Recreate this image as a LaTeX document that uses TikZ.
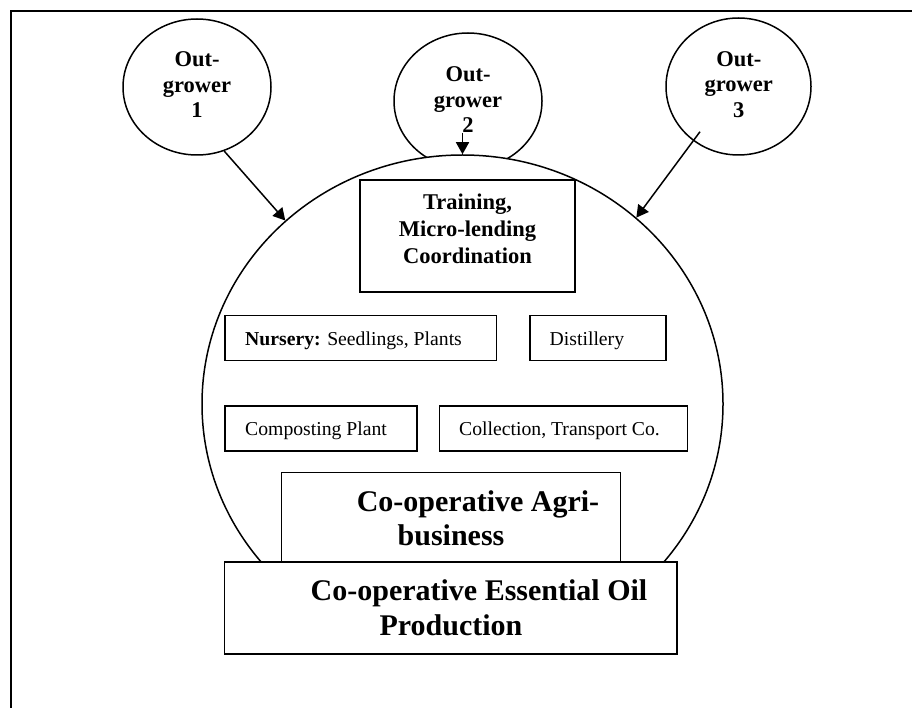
\documentclass[tikz,border=0pt]{standalone}
\usepackage{fontspec}
\setmainfont{Liberation Serif}
\usetikzlibrary{shapes.geometric,arrows.meta}
\begin{document}
\begin{tikzpicture}[x=1pt,y=-1pt,
  lw/.style={line width=1.5pt},
  og/.style={draw, ellipse, lw, inner sep=0pt, minimum width=148pt, minimum height=136pt},
  bigcircle/.style={draw, ellipse, lw, fill=white, inner sep=0pt, minimum width=521pt, minimum height=498pt},
  box/.style={draw, rectangle, lw, fill=white, inner sep=0pt},
  ogtext/.style={font=\fontsize{22.5}{25.7}\selectfont\bfseries, align=center, inner sep=0pt},
  trtext/.style={font=\fontsize{22.5}{27}\selectfont\bfseries, align=center, inner sep=0pt},
  reg/.style={font=\fontsize{19.7}{23}\selectfont, inner sep=0pt, anchor=base west},
  big/.style={font=\fontsize{30}{34.5}\selectfont\bfseries, align=center, inner sep=0pt},
  arr/.style={lw, -{Triangle[length=12pt,width=13pt]}}
]
\fill[white] (0,0) rectangle (912,708);
\useasboundingbox (0,0) rectangle (912,708);
% frame (top and left edges visible)
\draw[line width=2.2pt] (11,708) -- (11,11) -- (912,11);

% out-growers
\node[og] (og1) at (197,87) {};
\node[og] (og2) at (468,101) {};
\node[og, minimum width=145pt, minimum height=137pt] (og3) at (738.5,86.5) {};
\node[ogtext] (og1t) at (197,84.6) {Out-\\grower\\1};
\node[ogtext] (og2t) at (468,99.6) {Out-\\grower\\2};
\node[ogtext] (og3t) at (738.8,84.6) {Out-\\grower\\3};

% main circle
\node[bigcircle] (main) at (462.5,404) {};

% boxes
\node[box, minimum width=215pt, minimum height=112pt] (train) at (467.5,236) {};
\node[box, minimum width=271.7pt, minimum height=45pt] (nursery) at (360.85,338.2) {};
\node[box, minimum width=136pt, minimum height=45pt] (distil) at (598,338.2) {};
\node[box, minimum width=192pt, minimum height=45pt] (compost) at (321,428.5) {};
\node[box, minimum width=248.4pt, minimum height=45pt] (collect) at (563.5,428.5) {};
\node[box, minimum width=338.6pt, minimum height=89.7pt] (agri) at (451,517.15) {};
\node[box, minimum width=452.5pt, minimum height=92pt] (oil) at (450.75,608) {};

% texts
\node[trtext] (traint) at (467.5,229.3) {Training,\\Micro-lending\\Coordination};
\node[reg] (nurseryt) at (245,345) {\textbf{Nursery:} Seedlings, Plants};
\node[reg] (distilt) at (549.5,345) {Distillery};
\node[reg] (compostt) at (245,435) {Composting Plant};
\node[reg] (collectt) at (459,435) {Collection, Transport Co.};
\node[big] (agrit) at (451,518.2) {\hspace*{54pt}Co-operative Agri-\\business};
\node[big] (oilt) at (451,607.7) {\hspace*{56pt}Co-operative Essential Oil\\Production};

% arrows
\coordinate (a2s) at (462.5,133);
\coordinate (a3s) at (700,131.7);
\draw[arr] (og1.-67) -- (main.134);
\draw[arr] (a2s) -- (main.north);
\draw[arr] (a3s) -- (main.47.5);
\end{tikzpicture}
\end{document}
